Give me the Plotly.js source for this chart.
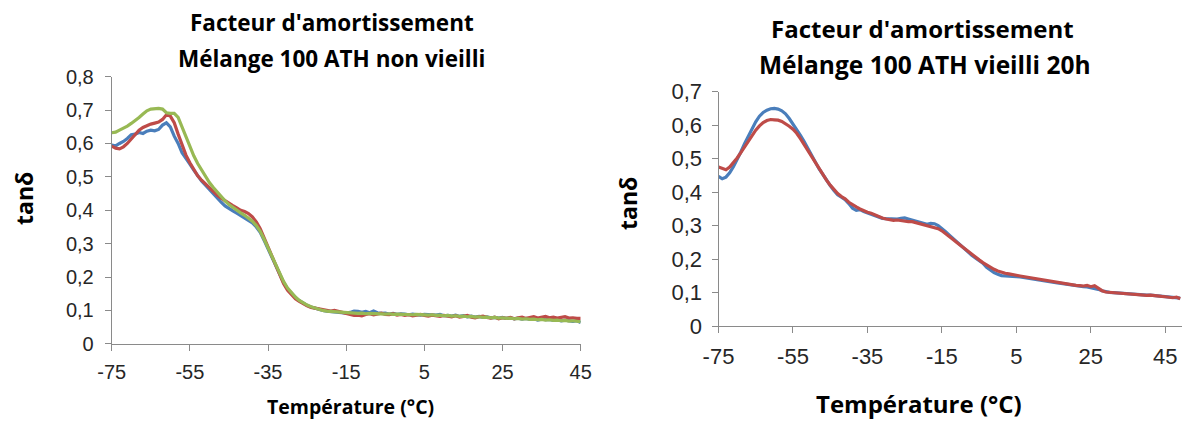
<!DOCTYPE html>
<html>
<head>
<meta charset="utf-8">
<script src="https://cdn.plot.ly/plotly-3.0.1.min.js"></script>
<style>html,body{margin:0;padding:0;background:#fff;}#chart{width:1186px;height:421px;}</style>
</head>
<body>
<div id="chart"></div>
<script>
// ---- Left chart: Mélange 100 ATH non vieilli ----
var tempLeft = [-75,-74,-73,-72,-71,-70,-69,-68,-67,-66,-65,-64,-63,-62,-61,-60,-59,-58,-57,-56,-55,-54,-53,-52,-51,-50,
  -49,-48,-47,-46,-45,-44,-43,-42,-41,-40,-39,-38,-37,-36,-35,-34,-33,-32,-31,-30,-29,-28,-27,-26,-25,-24,-23,-22,-21,-20,
  -19,-18,-17,-16,-15,-14,-13,-12,-11,-10,-9,-8,-7,-6,-5,-4,-3,-2,-1,0,1,2,3,4,5,6,7,8,9,10,
  11,12,13,14,15,16,17,18,19,20,21,22,23,24,25,26,27,28,29,30,31,32,33,34,35,36,37,38,39,40,41,42,43,44,45];

var leftBlue = [0.595,0.593,0.600,0.606,0.615,0.626,0.628,0.633,0.630,0.637,0.640,0.638,0.642,0.655,0.662,0.650,0.622,0.600,0.572,0.553,0.538,0.520,0.503,0.488,0.475,0.462,
  0.448,0.436,0.424,0.413,0.404,0.398,0.391,0.384,0.377,0.370,0.362,0.350,0.334,0.310,0.285,0.258,0.232,0.206,0.183,0.164,0.150,0.139,0.129,0.121,0.115,0.110,0.106,0.102,0.100,0.098,
  0.097,0.095,0.094,0.093,0.092,0.094,0.098,0.097,0.094,0.097,0.093,0.098,0.093,0.091,0.092,0.089,0.091,0.088,0.090,0.089,
  0.087,0.089,0.088,0.086,0.088,0.087,0.085,0.086,0.088,0.084,0.085,0.083,0.086,0.082,0.084,0.081,0.083,0.080,0.082,0.079,
  0.081,0.078,0.079,0.077,0.079,0.076,0.078,0.075,0.077,0.074,0.076,0.073,0.075,0.071,0.074,0.072,0.073,0.070,0.072,0.069,
  0.071,0.068,0.067,0.069,0.064];

var leftRed = [0.592,0.586,0.584,0.590,0.600,0.614,0.625,0.640,0.648,0.654,0.658,0.661,0.664,0.672,0.686,0.682,0.662,0.628,0.598,0.565,0.542,0.522,0.503,0.490,0.478,0.466,
  0.455,0.445,0.436,0.428,0.420,0.414,0.407,0.400,0.396,0.390,0.380,0.365,0.345,0.318,0.290,0.262,0.234,0.205,0.180,0.160,0.146,0.135,0.127,0.120,0.114,0.109,0.107,0.104,0.101,0.099,
  0.098,0.100,0.096,0.094,0.091,0.088,0.085,0.086,0.084,0.088,0.090,0.087,0.089,0.092,0.088,0.087,0.090,0.086,0.088,0.085,
  0.087,0.084,0.086,0.088,0.085,0.083,0.086,0.084,0.082,0.085,0.083,0.081,0.084,0.080,0.082,0.085,0.080,0.078,0.081,0.083,
  0.079,0.077,0.080,0.075,0.078,0.076,0.079,0.075,0.078,0.080,0.076,0.078,0.081,0.077,0.079,0.082,0.078,0.080,0.077,0.079,
  0.081,0.077,0.078,0.076,0.076];

var leftGreen = [0.632,0.634,0.640,0.645,0.652,0.660,0.668,0.678,0.688,0.698,0.703,0.704,0.705,0.703,0.692,0.690,0.690,0.678,0.648,0.618,0.590,0.563,0.540,0.520,0.500,0.483,
  0.468,0.454,0.441,0.428,0.417,0.408,0.400,0.392,0.385,0.377,0.367,0.354,0.337,0.313,0.288,0.262,0.236,0.210,0.186,0.167,0.152,0.140,0.130,0.122,0.116,0.111,0.107,0.103,0.100,0.098,
  0.097,0.096,0.095,0.094,0.093,0.092,0.092,0.091,0.092,0.090,0.091,0.090,0.089,0.090,0.089,0.090,0.088,0.089,0.088,0.089,
  0.088,0.087,0.088,0.087,0.088,0.086,0.087,0.085,0.086,0.084,0.085,0.083,0.084,0.082,0.083,0.081,0.082,0.080,0.081,0.079,
  0.080,0.078,0.079,0.077,0.078,0.076,0.077,0.075,0.076,0.074,0.075,0.073,0.074,0.072,0.073,0.071,0.072,0.070,0.071,0.069,
  0.070,0.068,0.069,0.067,0.066];

// ---- Right chart: Mélange 100 ATH vieilli 20h ----
var tempRight = [-75,-74,-73,-72,-71,-70,-69,-68,-67,-66,-65,-64,-63,-62,-61,-60,-59,-58,-57,-56,-55,-54,-53,-52,-51,-50,
  -49,-48,-47,-46,-45,-44,-43,-42,-41,-40,-39,-38,-37,-36,-35,-34,-33,-32,-31,-30,-29,-28,-27,-26,-25,-24,-23,-22,-21,-20,
  -19,-18,-17,-16,-15,-14,-13,-12,-11,-10,-9,-8,-7,-6,-5,-4,-3,-2,-1,0,1,2,3,4,5,6,7,8,9,10,
  11,12,13,14,15,16,17,18,19,20,21,22,23,24,25,26,27,28,29,30,31,32,33,34,35,36,37,38,39,40,41,42,43,44,45,46,47,48,49];

var rightBlue = [0.447,0.440,0.445,0.458,0.476,0.497,0.520,0.545,0.568,0.590,
  0.610,0.627,0.638,0.645,0.649,0.650,0.648,0.643,0.634,0.620,
  0.604,0.588,0.570,0.551,0.532,0.510,0.490,0.470,0.452,0.436,
  0.420,0.405,0.392,0.385,0.378,0.366,0.352,0.346,0.348,0.342,
  0.338,0.336,0.330,0.326,0.322,0.321,0.320,0.319,0.320,0.322,
  0.323,0.320,0.317,0.313,0.310,0.306,0.304,0.307,0.306,0.300,
  0.292,0.282,0.272,0.262,0.252,0.242,0.230,0.220,0.212,0.204,
  0.196,0.188,0.176,0.168,0.160,0.155,0.151,0.150,0.150,0.149,
  0.148,0.147,0.145,0.144,0.142,0.141,0.139,0.136,0.134,0.133,
  0.131,0.129,0.128,0.126,0.124,0.123,0.122,0.120,0.118,0.117,
  0.115,0.113,0.110,0.106,0.103,0.101,0.100,0.099,0.098,0.097,
  0.097,0.096,0.095,0.094,0.094,0.093,0.093,0.092,0.091,0.089,
  0.088,0.087,0.086,0.085,0.084];

var rightRed = [0.475,0.470,0.467,0.475,0.487,0.502,0.518,0.535,0.552,0.568,
  0.585,0.598,0.608,0.614,0.617,0.616,0.615,0.611,0.605,0.597,
  0.588,0.576,0.560,0.542,0.524,0.505,0.487,0.469,0.452,0.436,
  0.421,0.407,0.396,0.387,0.380,0.370,0.362,0.356,0.350,0.344,
  0.340,0.337,0.332,0.327,0.323,0.320,0.318,0.316,0.317,0.315,
  0.313,0.312,0.312,0.309,0.307,0.304,0.301,0.298,0.295,0.291,
  0.285,0.277,0.268,0.259,0.250,0.241,0.231,0.222,0.214,0.206,
  0.198,0.190,0.183,0.176,0.170,0.165,0.161,0.158,0.156,0.153,
  0.152,0.150,0.148,0.147,0.144,0.143,0.141,0.138,0.136,0.135,
  0.133,0.131,0.129,0.127,0.125,0.124,0.122,0.121,0.120,0.122,
  0.118,0.121,0.112,0.106,0.102,0.101,0.100,0.099,0.098,0.098,
  0.096,0.095,0.094,0.095,0.093,0.092,0.093,0.091,0.090,0.089,
  0.088,0.086,0.085,0.087,0.082];

// ---- Axis ticks ----
var xTickVals = [-75,-55,-35,-15,5,25,45];
var xTickText = ['-75','-55','-35','-15','5','25','45'];
var yTickValsLeft = [0,0.1,0.2,0.3,0.4,0.5,0.6,0.7,0.8];
var yTickTextLeft = ['0','0,1','0,2','0,3','0,4','0,5','0,6','0,7','0,8'];
var yTickValsRight = [0,0.1,0.2,0.3,0.4,0.5,0.6,0.7];
var yTickTextRight = ['0','0,1','0,2','0,3','0,4','0,5','0,6','0,7'];

var titleLeft1 = "Facteur d'amortissement";
var titleLeft2 = "Mélange 100 ATH non vieilli";
var titleRight1 = "Facteur d'amortissement";
var titleRight2 = "Mélange 100 ATH vieilli 20h";
var xTitle = "Température (°C)";
var yTitle = "tanδ";

var BLUE = '#4A7EBB', RED = '#BE4B48', GREEN = '#98B954';
var W = 1186, H = 421;
function px(x){return x/W;}
function py(y){return 1-y/H;}

var traces = [
  {x: tempLeft, y: leftBlue, xaxis:'x', yaxis:'y', mode:'lines', line:{color:BLUE, width:3.2}},
  {x: tempLeft, y: leftRed, xaxis:'x', yaxis:'y', mode:'lines', line:{color:RED, width:3.2}},
  {x: tempLeft, y: leftGreen, xaxis:'x', yaxis:'y', mode:'lines', line:{color:GREEN, width:3.2}},
  {x: tempRight, y: rightBlue, xaxis:'x2', yaxis:'y2', mode:'lines', line:{color:BLUE, width:3.2}},
  {x: tempRight, y: rightRed, xaxis:'x2', yaxis:'y2', mode:'lines', line:{color:RED, width:3.2}}
];

var axisCommon = {
  showline:true, linecolor:'#8a8a8a', linewidth:1, mirror:false,
  ticks:'outside', ticklen:6, tickcolor:'#8a8a8a', tickwidth:1,
  showgrid:false, zeroline:false, fixedrange:true, tickmode:'array'
};
function ax(extra){ var o = {}; for (var k in axisCommon) o[k]=axisCommon[k]; for (var k2 in extra) o[k2]=extra[k2]; return o; }

var tickFontL = {family:'Liberation Sans, Arial, sans-serif', size:20, color:'#262626'};
var tickFontR = {family:'Liberation Sans, Arial, sans-serif', size:22, color:'#262626'};
var boldFont = 'Open Sans, sans-serif';

var layout = {
  width: W, height: H, margin:{l:0,r:0,t:0,b:0}, showlegend:false,
  paper_bgcolor:'#fff', plot_bgcolor:'#fff',
  xaxis: ax({domain:[px(111.7), px(580.7)], range:[-75,45], anchor:'y', tickvals:xTickVals, ticktext:xTickText, tickfont:tickFontL, ticklabelstandoff:4}),
  yaxis: ax({domain:[py(343.8), py(76.7)], range:[0,0.8], anchor:'x', tickvals:yTickValsLeft, ticktext:yTickTextLeft, tickfont:tickFontL, ticklabelstandoff:7}),
  xaxis2: ax({domain:[px(718.5), px(1181.7)], range:[-75,49.4], anchor:'y2', tickvals:xTickVals, ticktext:xTickText, tickfont:tickFontR, ticklabelstandoff:4}),
  yaxis2: ax({domain:[py(326.2), py(91.7)], range:[0,0.7], anchor:'x2', tickvals:yTickValsRight, ticktext:yTickTextRight, tickfont:tickFontR, ticklabelstandoff:5}),
  annotations: [
    {text:titleLeft1, x:px(332), y:py(23), xref:'paper', yref:'paper', xanchor:'center', yanchor:'middle', showarrow:false, font:{family:boldFont, size:22.5, color:'#000', weight:'bold'}},
    {text:titleLeft2, x:px(332), y:py(58), xref:'paper', yref:'paper', xanchor:'center', yanchor:'middle', showarrow:false, font:{family:boldFont, size:22.5, color:'#000', weight:'bold'}},
    {text:titleRight1, x:px(922), y:py(28), xref:'paper', yref:'paper', xanchor:'center', yanchor:'middle', showarrow:false, font:{family:boldFont, size:24, color:'#000', weight:'bold'}},
    {text:titleRight2, x:px(925), y:py(64), xref:'paper', yref:'paper', xanchor:'center', yanchor:'middle', showarrow:false, font:{family:boldFont, size:24.5, color:'#000', weight:'bold'}},
    {text:xTitle, x:px(350), y:py(406), xref:'paper', yref:'paper', xanchor:'center', yanchor:'middle', showarrow:false, font:{family:boldFont, size:19.5, color:'#000', weight:'bold'}},
    {text:xTitle, x:px(919), y:py(403), xref:'paper', yref:'paper', xanchor:'center', yanchor:'middle', showarrow:false, font:{family:boldFont, size:24, color:'#000', weight:'bold'}},
    {text:yTitle, x:px(24), y:py(199), xref:'paper', yref:'paper', xanchor:'center', yanchor:'middle', textangle:-90, showarrow:false, font:{family:boldFont, size:23, color:'#000', weight:'bold'}},
    {text:yTitle, x:px(628), y:py(204), xref:'paper', yref:'paper', xanchor:'center', yanchor:'middle', textangle:-90, showarrow:false, font:{family:boldFont, size:23, color:'#000', weight:'bold'}}
  ]
};

Plotly.newPlot('chart', traces, layout, {staticPlot:true, displayModeBar:false});
</script>
</body>
</html>
